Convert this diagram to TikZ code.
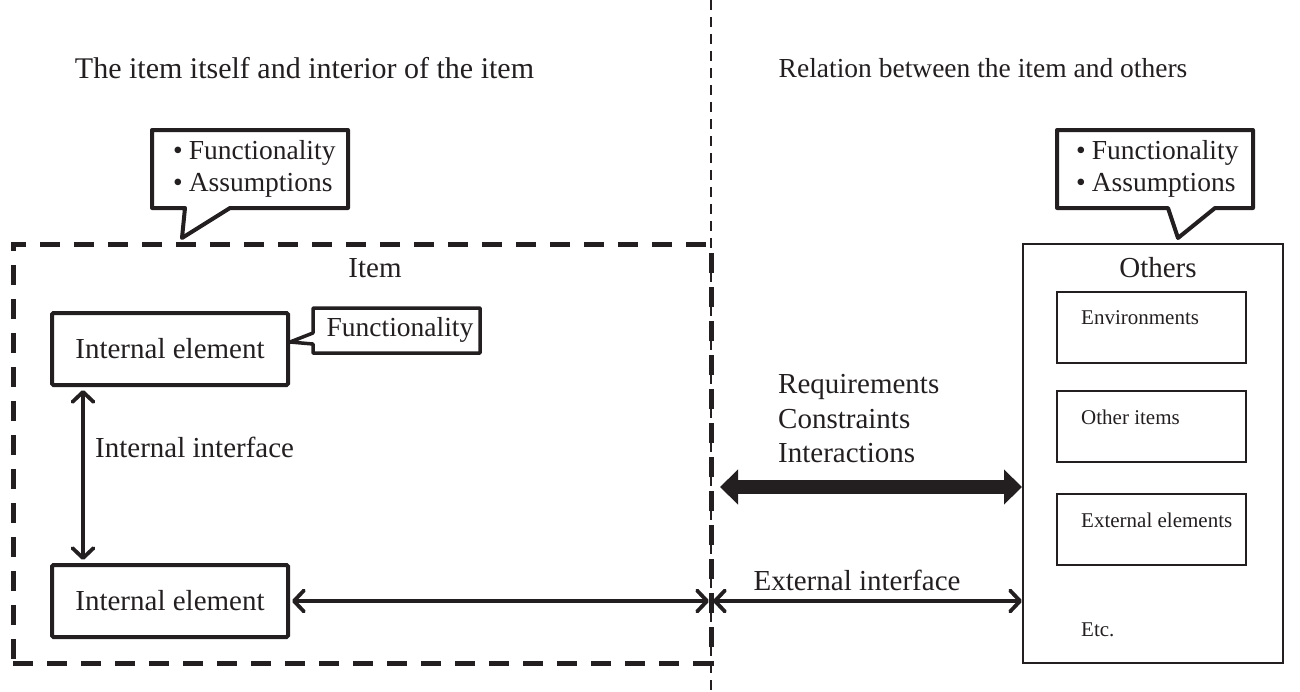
\documentclass[tikz,border=0pt]{standalone}
\usepackage{fontspec}
\setmainfont{Liberation Serif}
\usetikzlibrary{arrows.meta,calc}
\definecolor{ink}{HTML}{231F20}
\begin{document}
\begin{tikzpicture}[x=1pt,y=-1pt,
  big/.style={font=\fontsize{29}{32}\selectfont, text=ink, inner sep=0pt},
  callfont/.style={font=\fontsize{27.5}{32}\selectfont, text=ink, inner sep=0pt},
  small/.style={font=\fontsize{21}{25}\selectfont, text=ink, inner sep=0pt},
  elem/.style={draw=ink, line width=4pt, rounded corners=1.5pt, minimum width=236pt, minimum height=72pt, inner sep=0pt, big},
  subbox/.style={draw=ink, line width=2.5pt, minimum width=189pt, minimum height=71pt, inner sep=0pt},
  callout/.style={draw=ink, line width=4pt, line join=round, fill=white},
  barbs/.style={draw=ink, line width=3.8pt, {Straight Barb[length=10pt,width=21pt,line cap=round,line join=round]}-{Straight Barb[length=10pt,width=21pt,line cap=round,line join=round]}},
  fat/.style={draw=ink, fill=ink, line width=14pt, {Triangle[length=18pt,width=34pt]}-{Triangle[length=18pt,width=34pt]}},
]
\useasboundingbox (0,0) rectangle (1300,691);

% divider
\coordinate (dtop) at (711,0);
\coordinate (dbot) at (711,691);
\draw[ink, line width=2pt, dash pattern=on 10pt off 7pt] (dtop) -- (dbot);

% titles
\node[big, font=\fontsize{30}{32}\selectfont] (tleft) at (304.5,68) {The item itself and interior of the item};
\node[big, font=\fontsize{27.5}{32}\selectfont] (tright) at (983,68) {Relation between the item and others};

% item box
\node[draw=ink, line width=5pt, dash pattern=on 20pt off 14pt, minimum width=698pt, minimum height=419pt, inner sep=0pt] (item) at (362,453.5) {};
\node[big] (itemlbl) at (375,268) {Item};

% internal elements
\node[elem] (ie1) at (170,349) {Internal element};
\node[elem] (ie2) at (170,601) {Internal element};

% left callout
\draw[callout] (152,130) -- (348,130) -- (348,208) -- (230,208) -- (182,238) -- (185,208) -- (152,208) -- cycle;
\node[callfont, align=left, anchor=west] (c1) at (173,169) {\textbullet\hspace{6pt}Functionality\\\textbullet\hspace{6pt}Assumptions};

% small callout
\draw[callout, line width=3.5pt] (313,308) -- (480,308) -- (480,353) -- (313,353) -- (313,344) -- (ie1.east |- 0,342) -- (313,333) -- cycle;
\node[callfont] (c3) at (400,330) {Functionality};

% right callout
\draw[callout] (1057,130) -- (1253,130) -- (1253,208) -- (1215,208) -- (1178,238) -- (1168,208) -- (1057,208) -- cycle;
\node[callfont, align=left, anchor=west] (c2) at (1076,169) {\textbullet\hspace{6pt}Functionality\\\textbullet\hspace{6pt}Assumptions};

% others
\node[draw=ink, line width=2pt, minimum width=260pt, minimum height=419pt, inner sep=0pt] (others) at (1153,453.5) {};
\node[big] (otherslbl) at (1158,268) {Others};
\node[subbox] (env) at (1151.5,327.5) {};
\node[subbox] (oit) at (1151.5,426.5) {};
\node[subbox] (ext) at (1151.5,529.5) {};
\node[small, anchor=west] (envl) at (1081,318) {Environments};
\node[small, anchor=west] (oitl) at (1081,417) {Other items};
\node[small, anchor=west] (extl) at (1081,520) {External elements};
\node[small, anchor=west] (etc) at (1081,630) {Etc.};

% internal interface
\draw[barbs] ([xshift=33pt,yshift=-3pt]ie1.south west) -- ([xshift=33pt,yshift=3pt]ie2.north west);
\node[big, anchor=west] (iilbl) at (95,447) {Internal interface};

% external interface
\coordinate (bnd) at (711,601);
\draw[barbs] ([xshift=2pt]ie2.east) -- ([xshift=-2pt]bnd);
\draw[barbs] ([xshift=2pt]bnd) -- (bnd -| others.west);
\node[big] (eilbl) at (857,580) {External interface};

% requirements
\node[big, anchor=west] (req) at (778,387) {Requirements};
\node[big, anchor=west] (con) at (778,419) {Constraints};
\node[big, anchor=west] (int) at (778,453) {Interactions};
\coordinate (fatl) at (720,487);
\draw[fat] (fatl) -- (fatl -| others.west);

\end{tikzpicture}
\end{document}
